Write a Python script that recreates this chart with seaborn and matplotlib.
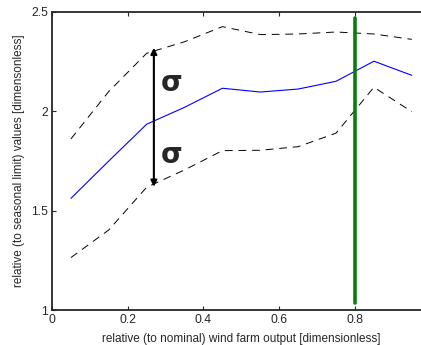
import numpy as np
import pandas as pd
import seaborn as sns
import matplotlib.pyplot as plt

# wind farm output bins (relative to nominal)
output = [0.05, 0.15, 0.25, 0.35, 0.45, 0.55, 0.65, 0.75, 0.85, 0.95]
mean_vals = [1.562, 1.75, 1.935, 2.02, 2.116, 2.097, 2.112, 2.151, 2.252, 2.181]
upper_vals = [1.861, 2.10, 2.292, 2.35, 2.426, 2.386, 2.389, 2.399, 2.389, 2.362]
lower_vals = [1.264, 1.403, 1.618, 1.705, 1.802, 1.804, 1.822, 1.89, 2.121, 1.998]

xticks = [0, 0.2, 0.4, 0.6, 0.8]
yticks = [1, 1.5, 2, 2.5]

marker_x = 0.8
marker_span = [1.035, 2.468]
arrow_x = 0.269
arrow_span = [1.62, 2.32]

df = pd.DataFrame({"output": output, "mean": mean_vals,
                   "upper": upper_vals, "lower": lower_vals})

sns.set_style("ticks")
plt.rcParams['font.family'] = ['Liberation Sans', 'DejaVu Sans']

fig = plt.figure(figsize=(4.21, 3.45), dpi=100)
ax = fig.add_axes([0.1235, 0.1014, 0.8996, 0.864])

sns.lineplot(data=df, x="output", y="upper", color="black", linewidth=0.7,
             dashes=(8, 6), ax=ax)
sns.lineplot(data=df, x="output", y="lower", color="black", linewidth=0.7,
             dashes=(8, 6), ax=ax)
sns.lineplot(data=df, x="output", y="mean", color="blue", linewidth=0.8, ax=ax)

ax.plot([marker_x, marker_x], marker_span, color="#0a7d0a", linewidth=2.6)

# sigma arrows
ax.annotate("", xy=(arrow_x, arrow_span[1]), xytext=(arrow_x, 1.96),
            arrowprops=dict(arrowstyle="-|>", color="black", lw=1.5,
                            mutation_scale=9, shrinkA=0, shrinkB=0))
ax.annotate("", xy=(arrow_x, arrow_span[0]), xytext=(arrow_x, 1.96),
            arrowprops=dict(arrowstyle="-|>", color="black", lw=1.5,
                            mutation_scale=9, shrinkA=0, shrinkB=0))
ax.text(0.287, 2.14, "σ", fontsize=20, fontweight="bold", va="center", ha="left",
        family=['DejaVu Sans'])
ax.text(0.287, 1.78, "σ", fontsize=20, fontweight="bold", va="center", ha="left",
        family=['DejaVu Sans'])

ax.set_xlim(0, 1)
ax.set_ylim(1, 2.5)
ax.set_xticks(xticks)
ax.set_xticklabels([f"{t:g}" for t in xticks])
ax.set_yticks(yticks)
ax.set_yticklabels([f"{t:g}" for t in yticks])
ax.tick_params(direction="in", length=3, labelsize=8.7, width=0.8, pad=3)
ax.tick_params(axis="x", top=True)
ax.tick_params(axis="y", right=True)
for s in ax.spines.values():
    s.set_linewidth(1.3)

ax.set_xlabel("relative (to nominal) wind farm output [dimensionless]", fontsize=8.5, labelpad=5)
ax.set_ylabel("relative (to seasonal limit) values [dimensonless]", fontsize=8.5, labelpad=4)

fig.savefig("out.png", dpi=100)
